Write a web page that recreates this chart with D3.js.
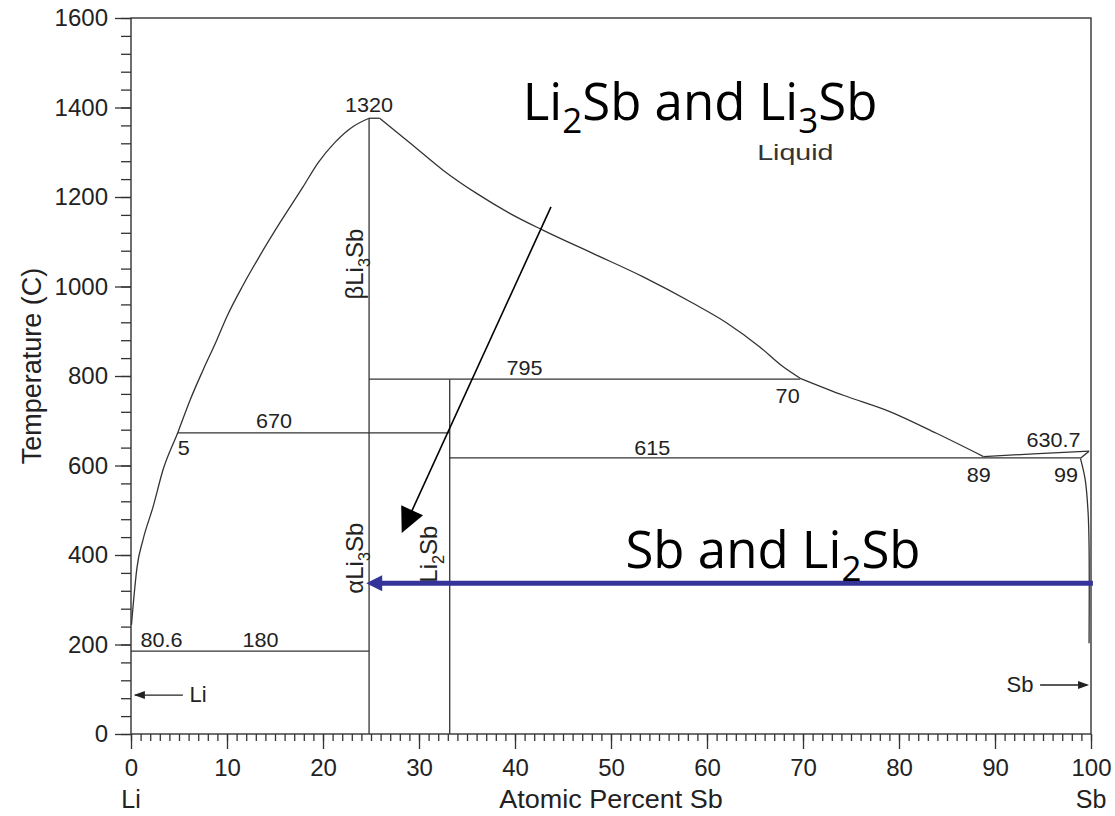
<!DOCTYPE html>
<html>
<head>
<meta charset="utf-8">
<title>Li-Sb phase diagram</title>
<script src="https://cdn.jsdelivr.net/npm/d3@7"></script>
<style>
  body{margin:0;background:#fff;}
  svg text{font-family:"Liberation Sans", Arial, Helvetica, sans-serif;fill:#222;}
</style>
</head>
<body>
<script>
// ---- data (atomic % Sb, temperature) ----
const xTicks=[0,10,20,30,40,50,60,70,80,90,100];
const yTicks=[0,200,400,600,800,1000,1200,1400,1600];

const liquidusLi=[[0.05,244],[0.21,284],[0.63,373],[1.25,434],[2.29,507],[3.33,590],[4.9,675],[6.15,746],[7.5,813],[8.93,880],[9.97,932],[11.7,1004],[13.4,1068],[15.5,1142],[17.9,1222],[19.5,1277],[21.2,1321],[23.1,1357],[24.8,1376]];
const liquidusTop=[[24.8,1376],[25.9,1376]];
const liquidusMid=[[25.9,1376],[29.1,1320],[32.5,1260],[36.0,1208],[39.5,1163],[42.9,1126],[48.1,1074],[53.3,1022],[58.5,963],[62.1,918],[65.5,865],[67.9,821],[69.7,795]];
const liquidusLow=[[69.7,795],[74.2,757],[79.1,720],[83.9,672],[88.8,620]];
const liquidusSb=[[88.8,620],[94,626],[99.8,632]];
const solidusSb=[[98.9,616],[99.8,632]];
const solvusSb=[[98.9,616],[99.4,568],[99.7,494],[99.8,418],[99.8,203]];

// isotherms: [from %, to %, T]
const isotherms=[[0,24.8,185],[4.9,33.2,673],[24.8,69.7,793],[33.2,98.9,617]];
// compounds: [%, top T]
const compounds=[[24.8,1376],[33.2,793]];

const numLabels=[
  ['1320',24.8,1390,'middle'],['795',41.0,802,'middle'],['70',68.4,740,'middle'],
  ['670',14.9,684,'middle'],['5',5.5,623,'middle'],['615',54.3,623,'middle'],
  ['89',88.3,563,'middle'],['99',97.4,563,'middle'],['630.7',96.1,641,'middle'],
  ['80.6',1.0,194,'start'],['180',13.5,194,'middle']
];
const phaseLabels=[
  [[['β'],['Li'],['3',1],['Sb']],24.2,1050],
  [[['α'],['Li'],['3',1],['Sb']],24.2,393],
  [[['Li'],['2',1],['Sb']],31.9,402]
];

const blueArrow=[[100.2,337],[24.5,337]];
const blackArrow=[[43.75,1178],[28.2,449]];

// ---- layout ----
const W=1115,H=816;
const x=d3.scaleLinear().domain([0,100]).range([131,1091]);
const y=d3.scaleLinear().domain([0,1600]).range([734,18]);

const svg=d3.select('body').append('svg').attr('width',W).attr('height',H);

// axes
svg.append('g').attr('transform',`translate(0,${y(0)})`)
  .call(d3.axisBottom(x).tickValues(d3.range(0,101,1)).tickSize(7).tickFormat(''));
svg.append('g').attr('transform',`translate(0,${y(0)})`)
  .call(d3.axisBottom(x).tickValues(xTicks).tickSize(15).tickPadding(9).tickFormat(d3.format('d')))
  .selectAll('text').style('font-size','24px').attr('dy','0.75em');
svg.append('g').attr('transform',`translate(${x(0)},0)`)
  .call(d3.axisLeft(y).tickValues(d3.range(0,1601,40)).tickSize(10).tickFormat(''));
svg.append('g').attr('transform',`translate(${x(0)},0)`)
  .call(d3.axisLeft(y).tickValues(yTicks).tickSize(16).tickPadding(7).tickFormat(d3.format('d')))
  .selectAll('text').style('font-size','24px');
svg.selectAll('.domain').remove();
svg.selectAll('.tick line').attr('stroke','#333').attr('stroke-width',1.3);

// frame
svg.append('rect').attr('x',x(0)).attr('y',y(1600))
  .attr('width',x(100)-x(0)).attr('height',y(0)-y(1600))
  .attr('fill','none').attr('stroke','#333').attr('stroke-width',1.4);

// axis titles
svg.append('text').attr('x',611).attr('y',808).attr('text-anchor','middle')
  .style('font-size','25px').attr('transform','translate(611,0) scale(1.08,1) translate(-611,0)')
  .text('Atomic Percent Sb');
svg.append('text').attr('x',x(0)).attr('y',808).attr('text-anchor','middle').style('font-size','25px').text('Li');
svg.append('text').attr('x',x(100)).attr('y',808).attr('text-anchor','middle').style('font-size','25px').text('Sb');
svg.append('text').attr('transform','translate(41,366) rotate(-90)').attr('text-anchor','middle')
  .style('font-size','27px').text('Temperature (C)');

// phase boundaries
const line=d3.line().x(d=>x(d[0])).y(d=>y(d[1]));
const g=svg.append('g').attr('fill','none').attr('stroke','#333').attr('stroke-width',1.3);
g.append('path').attr('d',line.curve(d3.curveMonotoneX)(liquidusLi));
g.append('path').attr('d',line.curve(d3.curveLinear)(liquidusTop));
g.append('path').attr('d',line.curve(d3.curveMonotoneX)(liquidusMid));
g.append('path').attr('d',line.curve(d3.curveMonotoneX)(liquidusLow));
g.append('path').attr('d',line.curve(d3.curveLinear)(liquidusSb));
g.append('path').attr('d',line.curve(d3.curveLinear)(solidusSb));
g.append('path').attr('d',line.curve(d3.curveCatmullRom)(solvusSb));
isotherms.forEach(d=>{
  g.append('line').attr('x1',x(d[0])).attr('x2',x(d[1])).attr('y1',y(d[2])).attr('y2',y(d[2]));
});
compounds.forEach(d=>{
  g.append('line').attr('x1',x(d[0])).attr('x2',x(d[0])).attr('y1',y(0)).attr('y2',y(d[1]));
});

// numbers on the diagram
numLabels.forEach(d=>{
  svg.append('text').attr('x',x(d[1])).attr('y',y(d[2])).attr('text-anchor',d[3])
    .style('font-size','20px')
    .attr('transform',`translate(${x(d[1])},0) scale(1.08,1) translate(${-x(d[1])},0)`)
    .text(d[0]);
});
svg.append('text').attr('x',x(69.2)).attr('y',y(1282)).attr('text-anchor','middle')
  .style('font-size','22px').style('fill','#333')
  .attr('transform',`translate(${x(69.2)},0) scale(1.3,1) translate(${-x(69.2)},0)`)
  .text('Liquid');

// phase names, rotated
function richText(sel,parts,size){
  parts.forEach((p,i)=>{
    let t=sel.append('tspan').text(p[0]);
    if(p[1]) t.style('font-size',(size*0.68)+'px').attr('dy',size*0.28);
    else if(i>0 && parts[i-1][1]) t.attr('dy',-size*0.28);
  });
}
phaseLabels.forEach(d=>{
  let t=svg.append('text').attr('text-anchor','middle').style('font-size','24px')
    .attr('transform',`translate(${x(d[1])},${y(d[2])}) rotate(-90)`);
  richText(t,d[0],24);
});

// small arrows Li / Sb
function arrowHead(tip,dirx,diry,len,half,color){
  let bx=tip[0]-dirx*len, by=tip[1]-diry*len;
  let px=-diry, py=dirx;
  svg.append('path').attr('fill',color)
    .attr('d',`M${tip[0]},${tip[1]}L${bx+px*half},${by+py*half}L${bx-px*half},${by-py*half}Z`);
}
svg.append('line').attr('x1',x(5.4)).attr('x2',x(0.4)).attr('y1',y(87)).attr('y2',y(87)).attr('stroke','#222').attr('stroke-width',1.3);
arrowHead([x(0.3),y(87)],-1,0,11,4,'#222');
svg.append('text').attr('x',x(6.1)).attr('y',y(71.5)).style('font-size','22px').text('Li');
svg.append('line').attr('x1',x(94.7)).attr('x2',x(99.6)).attr('y1',y(109.5)).attr('y2',y(109.5)).attr('stroke','#222').attr('stroke-width',1.3);
arrowHead([x(99.8),y(109.5)],1,0,11,4,'#222');
svg.append('text').attr('x',x(94.0)).attr('y',y(94)).attr('text-anchor','end').style('font-size','22px').text('Sb');

// annotation arrows
{
  let a=blackArrow.map(p=>[x(p[0]),y(p[1])]);
  let dx=a[1][0]-a[0][0], dy=a[1][1]-a[0][1], L=Math.hypot(dx,dy);
  let ux=dx/L, uy=dy/L;
  svg.append('line').attr('x1',a[0][0]).attr('y1',a[0][1])
    .attr('x2',a[1][0]-ux*20).attr('y2',a[1][1]-uy*20).attr('stroke','#000').attr('stroke-width',1.6);
  arrowHead(a[1],ux,uy,25,12,'#000');
}
{
  let a=blueArrow.map(p=>[x(p[0]),y(p[1])]);
  svg.append('line').attr('x1',a[0][0]).attr('y1',a[0][1])
    .attr('x2',a[1][0]+12).attr('y2',a[1][1]).attr('stroke','#333399').attr('stroke-width',5);
  arrowHead(a[1],-1,0,16,8,'#333399');
}

// big annotations
function bigText(parts,xv,yv){
  let t=svg.append('text').attr('x',x(xv)).attr('y',y(yv))
    .style('font-family','"Open Sans", sans-serif').style('font-size','51px').style('fill','#000');
  parts.forEach((p,i)=>{
    let s=t.append('tspan').text(p[0]);
    if(p[1]) s.style('font-size','35px').attr('dy',13);
    else if(i>0 && parts[i-1][1]) s.attr('dy',-13);
  });
}
bigText([['Li'],['2',1],['Sb and Li'],['3',1],['Sb']],40.8,1372);
bigText([['Sb and Li'],['2',1],['Sb']],51.5,371);
</script>
</body>
</html>
